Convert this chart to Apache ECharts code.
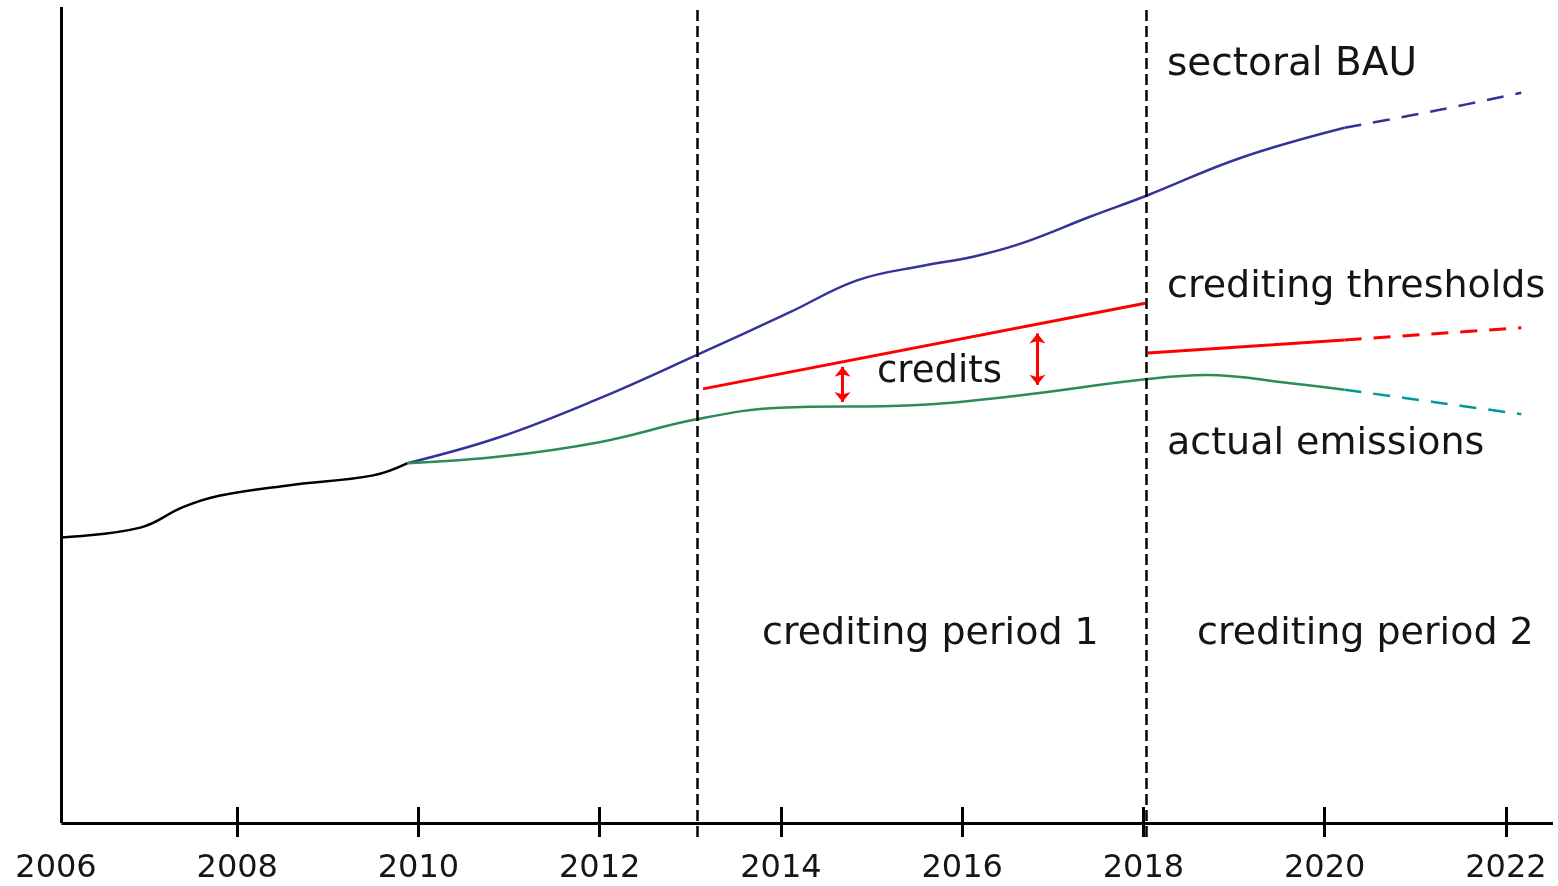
<!DOCTYPE html>
<html>
<head>
<meta charset="utf-8">
<script src="https://cdn.jsdelivr.net/npm/echarts@6.0.0/dist/echarts.min.js"></script>
<style>
  html, body { margin: 0; padding: 0; background: #fff; }
  #chart { width: 1558px; height: 886px; }
</style>
</head>
<body>
<div id="chart"></div>
<script>
// x = year, y = emissions (arbitrary units, no y scale on the original)
var historical = [
  [2006.06, 35.0], [2006.93, 36.2], [2007.40, 38.7], [2007.80, 40.1],
  [2008.58, 41.4], [2009.50, 42.6], [2009.88, 44.1]
];
var bau = [
  [2009.88, 44.1], [2010.90, 47.3], [2012.01, 52.1], [2013.08, 57.4], [2014.10, 62.6],
  [2014.84, 66.5], [2015.57, 68.3], [2016.12, 69.4], [2016.67, 71.1], [2017.41, 74.3],
  [2018.04, 76.9], [2019.07, 81.5], [2020.22, 85.2]
];
var bauOutlook = [[2020.22, 85.2], [2021.27, 87.4], [2022.17, 89.5]];
var actual = [
  [2009.88, 44.1], [2010.90, 44.9], [2012.01, 46.7], [2013.08, 49.5], [2013.99, 50.9],
  [2015.46, 51.2], [2016.56, 52.3], [2018.04, 54.4], [2018.70, 54.9], [2019.62, 53.9],
  [2020.22, 53.1]
];
var actualOutlook = [[2020.22, 53.1], [2021.20, 51.6], [2022.17, 50.1]];
var threshold1 = [[2013.14, 53.2], [2018.02, 63.7]];
var threshold2 = [[2018.05, 57.6], [2019.43, 58.6], [2020.22, 59.2]];
var threshold2Outlook = [[2020.22, 59.2], [2022.17, 60.7]];
var periodStarts = [2013.08, 2018.03];
// credits arrows: [year, low, high]
var creditArrows = [[2014.68, 51.6, 55.9], [2016.83, 53.7, 60.0]];
var tickYears = [2008, 2010, 2012, 2014, 2016, 2018, 2020, 2022];
var labelYears = [2006, 2008, 2010, 2012, 2014, 2016, 2018, 2020, 2022];

var chart = echarts.init(document.getElementById('chart'));
var txt = { fontFamily: 'DejaVu Sans', fontSize: 38, fill: '#151515' };

function line(data, color, width, dashed, smooth) {
  return {
    type: 'line', data: data, showSymbol: false, smooth: smooth ? 0.4 : false,
    silent: true, animation: false,
    lineStyle: { color: color, width: width, type: dashed ? [17, 12] : 'solid' }
  };
}

var series = [
  line(historical, '#000000', 2.5, false, true),
  line(bau, '#333399', 2.5, false, true),
  line(bauOutlook, '#333399', 2.5, true, true),
  line(actual, '#2e8b57', 2.5, false, true),
  line(actualOutlook, '#009999', 2.5, true, true),
  line(threshold1, '#ff0000', 3, false, false),
  line(threshold2, '#ff0000', 3, false, false),
  line(threshold2Outlook, '#ff0000', 3, true, false)
];

series[5].markLine = {
  silent: true, animation: false,
  symbol: ['arrow', 'arrow'], symbolSize: [12, 10],
  label: { show: false },
  lineStyle: { color: '#ff0000', width: 3, type: 'solid' },
  data: creditArrows.map(function (a) {
    return [{ coord: [a[0], a[1]] }, { coord: [a[0], a[2]] }];
  })
};
series[1].markLine = {
  silent: true, animation: false, symbol: 'none',
  label: { show: false },
  lineStyle: { color: '#000', width: 2.5, type: [11, 5] },
  data: periodStarts.map(function (x) { return { xAxis: x }; })
};
// the visible axis lines sit at zero, a little above the grid bottom, so the
// inside ticks of the x axis cross them like in the original
series[0].markLine = {
  silent: true, animation: false, symbol: 'none',
  label: { show: false },
  lineStyle: { color: '#000', width: 3, type: 'solid' },
  data: [
    [{ coord: [2006.06, 0] }, { coord: [2022.52, 0] }],
    [{ coord: [2006.06, 0] }, { coord: [2006.06, 100] }]
  ]
};

chart.setOption({
  animation: false,
  grid: { left: 56, right: 5, top: 7, bottom: 49 },
  xAxis: {
    type: 'value', min: 2006, max: 2022.52,
    axisLine: { show: false, onZero: false },
    axisTick: { show: true, inside: true, length: 30, lineStyle: { color: '#000', width: 3 }, customValues: tickYears },
    axisLabel: {
      customValues: labelYears, margin: 16, color: '#151515',
      fontFamily: 'DejaVu Sans', fontSize: 32,
      formatter: function (v) { return String(v); }
    },
    splitLine: { show: false }
  },
  yAxis: {
    type: 'value', min: -1.716, max: 100,
    axisLine: { show: false },
    axisTick: { show: false }, axisLabel: { show: false }, splitLine: { show: false }
  },
  graphic: [
    { type: 'text', left: 1167, top: 45, style: Object.assign({ text: 'sectoral BAU' }, txt, { fontSize: 39 }) },
    { type: 'text', left: 1167, top: 268, style: Object.assign({ text: 'crediting thresholds' }, txt) },
    { type: 'text', left: 877, top: 354, style: Object.assign({ text: 'credits' }, txt, { fontSize: 37 }) },
    { type: 'text', left: 1167, top: 425, style: Object.assign({ text: 'actual emissions' }, txt) },
    { type: 'text', left: 762, top: 615, style: Object.assign({ text: 'crediting period 1' }, txt) },
    { type: 'text', left: 1197, top: 615, style: Object.assign({ text: 'crediting period 2' }, txt) }
  ],
  series: series
});
</script>
</body>
</html>
